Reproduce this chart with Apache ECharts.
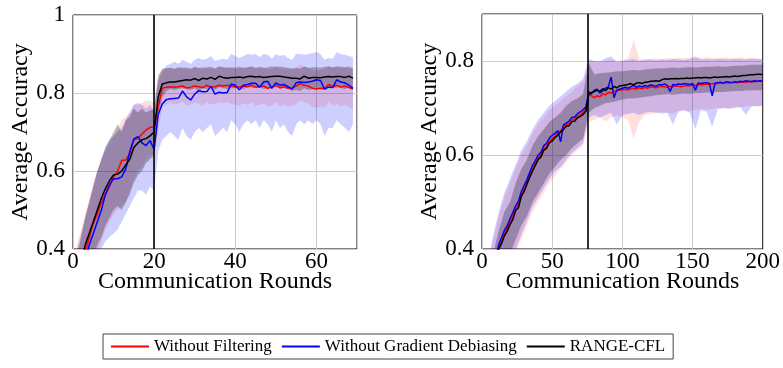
<!DOCTYPE html>
<html><head><meta charset="utf-8">
<script src="https://cdn.jsdelivr.net/npm/echarts@6/dist/echarts.min.js"></script>
<style>html,body{margin:0;padding:0;background:#fff}#c{width:783px;height:368px}</style>
</head><body><div id="c"></div>
<script>
// ---------- Left panel (rounds 0..69) ----------
const roundsL = Array.from({length:70},(_,i)=>i);
const redL = [0.27,0.31,0.35,0.39,0.43,0.465,0.49,0.52,0.54,0.56,
0.585,0.60,0.627,0.628,0.645,0.68,0.683,0.695,0.705,0.712,
0.713,0.765,0.812,0.815,0.816,0.815,0.816,0.818,0.813,0.815,
0.818,0.816,0.814,0.820,0.815,0.816,0.820,0.818,0.820,0.818,
0.816,0.815,0.818,0.816,0.820,0.815,0.816,0.818,0.812,0.815,
0.820,0.813,0.816,0.812,0.813,0.818,0.824,0.820,0.818,0.812,
0.810,0.812,0.811,0.822,0.816,0.820,0.815,0.818,0.814,0.810];
const blueL = [0.25,0.29,0.33,0.37,0.41,0.44,0.47,0.50,0.54,0.565,
0.58,0.58,0.585,0.605,0.65,0.682,0.688,0.672,0.665,0.678,
0.655,0.745,0.772,0.783,0.785,0.786,0.787,0.805,0.790,0.782,
0.797,0.806,0.803,0.804,0.817,0.797,0.802,0.800,0.801,0.823,
0.820,0.808,0.820,0.822,0.825,0.825,0.815,0.828,0.830,0.812,
0.826,0.820,0.822,0.816,0.810,0.826,0.828,0.827,0.828,0.830,
0.834,0.832,0.810,0.815,0.814,0.834,0.828,0.826,0.820,0.812];
const blackL = [0.25,0.30,0.36,0.41,0.44,0.47,0.50,0.53,0.555,0.575,
0.59,0.592,0.60,0.615,0.63,0.66,0.672,0.68,0.683,0.69,
0.70,0.79,0.823,0.826,0.828,0.828,0.830,0.832,0.834,0.833,
0.837,0.832,0.838,0.836,0.840,0.835,0.843,0.840,0.838,0.840,
0.840,0.841,0.839,0.842,0.843,0.841,0.842,0.840,0.841,0.842,
0.843,0.843,0.841,0.840,0.838,0.838,0.836,0.843,0.838,0.840,
0.840,0.839,0.841,0.842,0.841,0.842,0.842,0.840,0.843,0.838];
const redLoL = [0.17,0.21,0.25,0.29,0.33,0.36,0.39,0.42,0.45,0.47,
0.49,0.50,0.51,0.52,0.55,0.58,0.60,0.61,0.63,0.64,
0.645,0.70,0.765,0.77,0.775,0.77,0.772,0.778,0.768,0.77,
0.775,0.772,0.768,0.776,0.77,0.772,0.776,0.774,0.776,0.772,
0.77,0.768,0.774,0.77,0.776,0.768,0.77,0.774,0.765,0.768,
0.776,0.766,0.77,0.765,0.766,0.772,0.78,0.776,0.772,0.764,
0.762,0.764,0.762,0.776,0.768,0.772,0.766,0.77,0.764,0.758];
const redUpL = [0.36,0.41,0.45,0.49,0.53,0.57,0.60,0.63,0.65,0.67,
0.69,0.71,0.73,0.74,0.75,0.77,0.77,0.775,0.78,0.78,
0.775,0.84,0.86,0.862,0.865,0.862,0.864,0.866,0.86,0.862,
0.866,0.864,0.86,0.868,0.862,0.864,0.868,0.866,0.868,0.864,
0.862,0.862,0.866,0.864,0.868,0.862,0.864,0.866,0.86,0.862,
0.868,0.86,0.864,0.86,0.86,0.866,0.872,0.868,0.866,0.86,
0.858,0.86,0.86,0.87,0.864,0.868,0.862,0.866,0.862,0.86];
const blueLoL = [0.15,0.19,0.23,0.27,0.31,0.34,0.37,0.40,0.42,0.43,
0.44,0.45,0.47,0.49,0.51,0.53,0.55,0.55,0.54,0.56,
0.55,0.65,0.68,0.69,0.70,0.69,0.68,0.71,0.69,0.68,
0.70,0.71,0.70,0.71,0.72,0.69,0.70,0.71,0.70,0.73,
0.72,0.70,0.72,0.73,0.72,0.73,0.71,0.73,0.72,0.70,
0.73,0.71,0.72,0.70,0.69,0.72,0.73,0.72,0.73,0.72,
0.73,0.72,0.69,0.71,0.71,0.73,0.72,0.71,0.70,0.72];
const blueUpL = [0.36,0.40,0.44,0.48,0.52,0.56,0.60,0.63,0.66,0.68,
0.69,0.70,0.71,0.73,0.75,0.77,0.775,0.77,0.76,0.77,
0.75,0.83,0.855,0.87,0.875,0.88,0.875,0.885,0.88,0.875,
0.885,0.89,0.885,0.888,0.895,0.882,0.885,0.888,0.885,0.9,
0.895,0.89,0.895,0.9,0.898,0.9,0.892,0.9,0.898,0.888,
0.9,0.895,0.898,0.89,0.885,0.9,0.9,0.898,0.9,0.902,
0.905,0.9,0.885,0.89,0.888,0.905,0.9,0.898,0.895,0.892];
const blackLoL = [0.18,0.22,0.27,0.31,0.35,0.38,0.41,0.43,0.46,0.48,
0.50,0.51,0.50,0.52,0.54,0.57,0.59,0.60,0.62,0.63,
0.64,0.74,0.79,0.805,0.81,0.808,0.81,0.812,0.81,0.808,
0.812,0.806,0.812,0.81,0.814,0.808,0.815,0.812,0.81,0.812,
0.812,0.814,0.81,0.815,0.814,0.812,0.815,0.81,0.812,0.814,
0.815,0.814,0.812,0.81,0.806,0.808,0.805,0.812,0.808,0.81,
0.812,0.81,0.813,0.814,0.812,0.814,0.813,0.81,0.814,0.808];
const blackUpL = [0.33,0.38,0.43,0.48,0.52,0.56,0.60,0.63,0.66,0.68,
0.70,0.72,0.70,0.73,0.74,0.76,0.75,0.76,0.75,0.755,
0.76,0.845,0.862,0.864,0.865,0.862,0.866,0.864,0.866,0.862,
0.867,0.864,0.866,0.865,0.868,0.862,0.868,0.866,0.864,0.866,
0.865,0.867,0.864,0.866,0.868,0.865,0.867,0.864,0.866,0.868,
0.867,0.868,0.866,0.865,0.863,0.864,0.862,0.868,0.864,0.866,
0.866,0.865,0.867,0.868,0.866,0.868,0.868,0.866,0.868,0.864];

// ---------- Right panel (rounds 2..200 step 2; bands 4..200 step 4) ----------
const roundsR = Array.from({length:100},(_,i)=>2*(i+1));
const roundsRB = Array.from({length:50},(_,i)=>4*(i+1));
const redR = [0.285,0.305,0.335,0.355,0.38,0.405,0.418,0.432,0.445,0.458,
0.47,0.486,0.495,0.515,0.528,0.542,0.556,0.57,0.582,0.593,
0.601,0.613,0.619,0.629,0.635,0.64,0.647,0.652,0.659,0.664,
0.667,0.674,0.677,0.682,0.686,0.69,0.697,0.732,0.726,0.722,
0.726,0.724,0.73,0.728,0.733,0.732,0.735,0.736,0.738,0.739,
0.74,0.738,0.741,0.742,0.74,0.743,0.741,0.744,0.742,0.745,
0.744,0.743,0.745,0.746,0.745,0.744,0.746,0.745,0.747,0.746,
0.745,0.747,0.748,0.747,0.749,0.748,0.75,0.749,0.75,0.751,
0.75,0.752,0.751,0.752,0.753,0.752,0.754,0.753,0.754,0.755,
0.754,0.755,0.756,0.755,0.756,0.757,0.756,0.757,0.757,0.756];
const blueR = [0.29,0.31,0.34,0.36,0.385,0.41,0.425,0.44,0.45,0.465,
0.478,0.492,0.502,0.522,0.535,0.548,0.563,0.578,0.588,0.6,
0.606,0.62,0.625,0.636,0.642,0.646,0.652,0.628,0.664,0.668,
0.672,0.68,0.681,0.688,0.692,0.696,0.702,0.735,0.73,0.738,
0.74,0.732,0.736,0.742,0.745,0.766,0.722,0.738,0.74,0.742,
0.744,0.742,0.745,0.748,0.744,0.747,0.745,0.748,0.746,0.749,
0.748,0.746,0.75,0.749,0.751,0.748,0.735,0.75,0.749,0.751,
0.75,0.752,0.751,0.75,0.752,0.738,0.753,0.752,0.753,0.754,
0.752,0.726,0.753,0.754,0.755,0.753,0.756,0.755,0.754,0.756,
0.755,0.757,0.756,0.758,0.757,0.756,0.758,0.757,0.758,0.757];
const blackR = [0.28,0.30,0.33,0.35,0.375,0.40,0.412,0.428,0.438,0.452,
0.463,0.482,0.488,0.512,0.522,0.538,0.552,0.566,0.578,0.59,
0.596,0.61,0.614,0.626,0.63,0.637,0.642,0.649,0.654,0.661,
0.662,0.671,0.672,0.679,0.682,0.686,0.693,0.728,0.733,0.735,
0.738,0.735,0.741,0.737,0.743,0.74,0.746,0.743,0.747,0.748,
0.749,0.75,0.752,0.749,0.753,0.754,0.752,0.755,0.755,0.757,
0.757,0.758,0.757,0.76,0.762,0.761,0.762,0.762,0.763,0.762,
0.763,0.763,0.764,0.763,0.764,0.764,0.765,0.764,0.765,0.765,
0.764,0.765,0.766,0.765,0.766,0.766,0.767,0.766,0.767,0.768,
0.767,0.768,0.769,0.769,0.77,0.771,0.771,0.772,0.772,0.771];
const redLoR = [0.20,0.24,0.29,0.32,0.36,0.39,0.42,0.45,0.48,0.50,
0.52,0.54,0.555,0.57,0.585,0.60,0.61,0.62,0.67,0.675,
0.68,0.672,0.68,0.685,0.68,0.675,0.635,0.67,0.685,0.688,
0.69,0.692,0.69,0.688,0.694,0.695,0.693,0.696,0.698,0.697,
0.698,0.70,0.699,0.70,0.702,0.701,0.703,0.704,0.703,0.704];
const redUpR = [0.36,0.42,0.47,0.51,0.54,0.57,0.60,0.62,0.645,0.665,
0.68,0.695,0.705,0.715,0.725,0.735,0.745,0.755,0.80,0.80,
0.798,0.80,0.802,0.80,0.802,0.805,0.845,0.805,0.803,0.805,
0.806,0.804,0.806,0.805,0.807,0.806,0.808,0.81,0.806,0.808,
0.807,0.806,0.808,0.807,0.806,0.808,0.806,0.807,0.806,0.805];
const blueLoR = [0.21,0.25,0.30,0.33,0.37,0.40,0.43,0.46,0.49,0.51,
0.53,0.55,0.565,0.575,0.59,0.605,0.615,0.625,0.68,0.685,
0.68,0.685,0.69,0.665,0.685,0.688,0.69,0.685,0.69,0.692,
0.69,0.688,0.69,0.665,0.692,0.695,0.69,0.655,0.695,0.692,
0.66,0.698,0.70,0.698,0.70,0.702,0.685,0.703,0.704,0.705];
const blueUpR = [0.37,0.43,0.48,0.52,0.55,0.58,0.61,0.63,0.655,0.675,
0.69,0.705,0.715,0.725,0.735,0.745,0.752,0.762,0.805,0.80,
0.80,0.806,0.81,0.798,0.80,0.802,0.804,0.80,0.802,0.803,
0.801,0.803,0.802,0.804,0.803,0.802,0.804,0.808,0.803,0.804,
0.803,0.805,0.804,0.803,0.805,0.804,0.803,0.805,0.804,0.803];
const blackLoR = [0.22,0.27,0.32,0.36,0.39,0.42,0.45,0.47,0.50,0.52,
0.54,0.56,0.575,0.59,0.60,0.615,0.625,0.635,0.69,0.70,
0.705,0.71,0.712,0.715,0.718,0.72,0.72,0.722,0.724,0.725,
0.727,0.728,0.73,0.728,0.73,0.731,0.73,0.732,0.732,0.733,
0.733,0.734,0.734,0.735,0.736,0.736,0.737,0.738,0.738,0.738];
const blackUpR = [0.33,0.39,0.44,0.48,0.50,0.54,0.57,0.59,0.62,0.64,
0.655,0.67,0.68,0.69,0.705,0.715,0.72,0.73,0.795,0.772,
0.774,0.775,0.776,0.778,0.778,0.78,0.781,0.78,0.782,0.783,
0.784,0.784,0.785,0.786,0.785,0.786,0.787,0.786,0.787,0.788,
0.788,0.789,0.788,0.789,0.79,0.79,0.791,0.792,0.792,0.792];

const names = ['Without Filtering','Without Gradient Debiasing','RANGE-CFL'];
const colors = ['#ff0000','#0000ff','#000000'];
const splitX = [20, 75];
const FONT = 'Liberation Serif';

function band(xs, lo, hi, fill, gi) {
  return {
    type: 'custom', xAxisIndex: gi, yAxisIndex: gi, silent: true, z: 1, clip: true,
    data: xs.map((x, i) => [x, lo[i], hi[i]]), encode: {x: 0, y: [1, 2]},
    renderItem(params, api) {
      if (params.dataIndex !== 0) return;
      const pts = [];
      for (let i = 0; i < xs.length; i++) pts.push(api.coord([xs[i], hi[i]]));
      for (let i = xs.length - 1; i >= 0; i--) pts.push(api.coord([xs[i], lo[i]]));
      const cs = params.coordSys;
      return {type: 'polygon', shape: {points: pts}, style: {fill: fill},
        clipPath: {type: 'rect', shape: {x: cs.x, y: cs.y, width: cs.width, height: cs.height}}};
    }
  };
}
function line(name, xs, ys, color, gi, mark) {
  const s = {
    type: 'line', name, xAxisIndex: gi, yAxisIndex: gi, data: xs.map((x, i) => [x, ys[i]]),
    showSymbol: false, symbol: 'none', clip: true, z: 3,
    lineStyle: {color, width: 1.5}, itemStyle: {color}
  };
  if (mark !== undefined) s.markLine = {silent: true, symbol: ['none','none'], label: {show: false},
    lineStyle: {color: '#000', width: 1.6, type: 'solid'}, data: [{xAxis: mark}]};
  return s;
}
const axisLab = {fontFamily: FONT, fontSize: 23, color: '#000'};
const nameSt = {fontFamily: FONT, fontSize: 24, color: '#000'};
const split = {show: true, lineStyle: {color: '#cccccc', width: 1}};
function xAx(gi, max, interval, showMax) {
  return {type: 'value', gridIndex: gi, min: 0, max, interval, name: 'Communication Rounds',
    nameLocation: 'middle', nameGap: 21, nameMoveOverlap: false, nameTextStyle: nameSt,
    axisLine: {show: false}, axisTick: {show: false}, splitLine: split,
    axisLabel: Object.assign({margin: 1, showMaxLabel: showMax}, axisLab)};
}
function yAx(gi, min, max, showMax) {
  return {type: 'value', gridIndex: gi, min, max, interval: 0.2, name: 'Average Accuracy',
    nameLocation: 'middle', nameGap: 40, nameMoveOverlap: false, nameTextStyle: nameSt,
    axisLine: {show: false}, axisTick: {show: false}, splitLine: split,
    axisLabel: Object.assign({margin: 8, showMaxLabel: showMax,
      formatter: v => (Math.abs(v - 1) < 1e-9 ? '1' : v.toFixed(1))}, axisLab)};
}

const chart = echarts.init(document.getElementById('c'), null, {renderer: 'canvas'});
chart.setOption({
  animation: false,
  backgroundColor: '#fff',
  grid: [
    {left: 73, top: 15, width: 284, height: 234, show: true, borderColor: '#000', borderWidth: 1, backgroundColor: 'transparent'},
    {left: 482, top: 14, width: 283, height: 235, show: true, borderColor: '#000', borderWidth: 1, backgroundColor: 'transparent'}
  ],
  xAxis: [xAx(0, 70, 20, false), xAx(1, 200, 50, true)],
  yAxis: [yAx(0, 0.4, 1, true), yAx(1, 0.4, 0.9, false)],
  legend: {
    data: names, left: 103, top: 334, orient: 'horizontal', icon: 'rect',
    itemWidth: 38, itemHeight: 2, itemGap: 10, padding: [4, 8],
    borderColor: '#444', borderWidth: 1, borderRadius: 0,
    textStyle: {fontFamily: FONT, fontSize: 17, color: '#000'}
  },
  series: [
    band(roundsL, redLoL, redUpL, 'rgba(255,0,0,0.13)', 0),
    band(roundsL, blueLoL, blueUpL, 'rgba(0,0,255,0.19)', 0),
    band(roundsL, blackLoL, blackUpL, 'rgba(0,0,0,0.26)', 0),
    line(names[0], roundsL, redL, colors[0], 0),
    line(names[1], roundsL, blueL, colors[1], 0),
    line(names[2], roundsL, blackL, colors[2], 0, splitX[0]),
    band(roundsRB, redLoR, redUpR, 'rgba(255,0,0,0.13)', 1),
    band(roundsRB, blueLoR, blueUpR, 'rgba(0,0,255,0.19)', 1),
    band(roundsRB, blackLoR, blackUpR, 'rgba(0,0,0,0.26)', 1),
    line(names[0], roundsR, redR, colors[0], 1),
    line(names[1], roundsR, blueR, colors[1], 1),
    line(names[2], roundsR, blackR, colors[2], 1, splitX[1])
  ]
});
</script></body></html>
